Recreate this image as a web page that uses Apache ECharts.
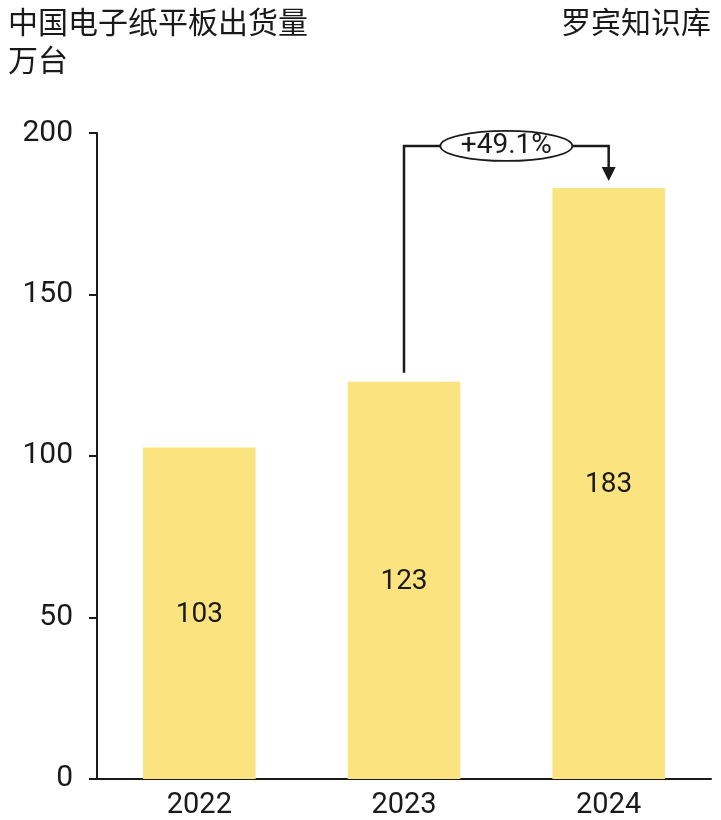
<!DOCTYPE html>
<html>
<head>
<meta charset="utf-8">
<script src="https://cdn.jsdelivr.net/npm/echarts@6/dist/echarts.min.js"></script>
<style>
  html, body { margin: 0; padding: 0; background: #fff; }
  #main { width: 721px; height: 820px; }
</style>
</head>
<body>
<div id="main"></div>
<script>
var years = ['2022', '2023', '2024'];
var shipments = [102.6, 123, 183];
var yTicks = [0, 50, 100, 150, 200];
var growthText = '+49.1%';

var font = 'Roboto, "Noto Sans CJK SC", sans-serif';
var ink = '#1a1a1a';

var chart = echarts.init(document.getElementById('main'));

var option = {
  animation: false,
  title: [
    {
      text: '中国电子纸平板出货量\n万台',
      left: 3, top: 1,
      textStyle: { fontFamily: font, fontSize: 30, fontWeight: 'normal', color: ink, lineHeight: 38 }
    },
    {
      text: '罗宾知识库',
      right: 5, top: 1,
      textStyle: { fontFamily: font, fontSize: 30, fontWeight: 'normal', color: ink, lineHeight: 38 }
    }
  ],
  grid: { left: 97, right: 10, top: 133, bottom: 41 },
  xAxis: {
    type: 'category',
    data: years,
    axisLine: { lineStyle: { color: ink, width: 2 } },
    axisTick: { show: false },
    axisLabel: { fontFamily: font, fontSize: 29, color: ink, margin: 12 }
  },
  yAxis: {
    type: 'value',
    min: yTicks[0],
    max: yTicks[yTicks.length - 1],
    interval: 50,
    axisLine: { show: true, lineStyle: { color: ink, width: 2 } },
    axisTick: { show: true, length: 8, lineStyle: { color: ink, width: 2 } },
    axisLabel: { fontFamily: font, fontSize: 30, color: ink, margin: 24 },
    splitLine: { show: false }
  },
  series: [
    {
      type: 'bar',
      data: shipments,
      barWidth: '55%',
      itemStyle: { color: '#FBE380' },
      label: {
        show: true,
        position: 'inside',
        offset: [0, 2],
        fontFamily: font,
        fontSize: 28,
        color: ink,
        formatter: function (p) { return Math.round(p.value); }
      }
    }
  ]
};
chart.setOption(option);

// growth bracket from 2023 bar to 2024 bar
var p1 = chart.convertToPixel({ seriesIndex: 0 }, [years[1], shipments[1]]);
var p2 = chart.convertToPixel({ seriesIndex: 0 }, [years[2], shipments[2]]);
var topY = chart.convertToPixel({ seriesIndex: 0 }, [years[1], 196])[1];
var midX = (p1[0] + p2[0]) / 2;
var rx = 66, ry = 15;

chart.setOption({
  graphic: [
    {
      type: 'polyline',
      shape: { points: [[p1[0], p1[1] - 9], [p1[0], topY], [midX - rx, topY]] },
      style: { stroke: ink, lineWidth: 2.5, fill: null }
    },
    {
      type: 'polyline',
      shape: { points: [[midX + rx, topY], [p2[0], topY], [p2[0], p2[1] - 20]] },
      style: { stroke: ink, lineWidth: 2.5, fill: null }
    },
    {
      type: 'polygon',
      shape: { points: [[p2[0] - 7, p2[1] - 21], [p2[0] + 7, p2[1] - 21], [p2[0], p2[1] - 7]] },
      style: { fill: ink }
    },
    {
      type: 'ellipse',
      shape: { cx: midX, cy: topY, rx: rx, ry: ry },
      style: { fill: '#fff', stroke: ink, lineWidth: 1.8 }
    },
    {
      type: 'text',
      x: midX, y: topY,
      style: {
        text: growthText,
        fontFamily: font, fontSize: 28, fill: ink,
        align: 'center', verticalAlign: 'middle'
      }
    }
  ]
});
</script>
</body>
</html>
